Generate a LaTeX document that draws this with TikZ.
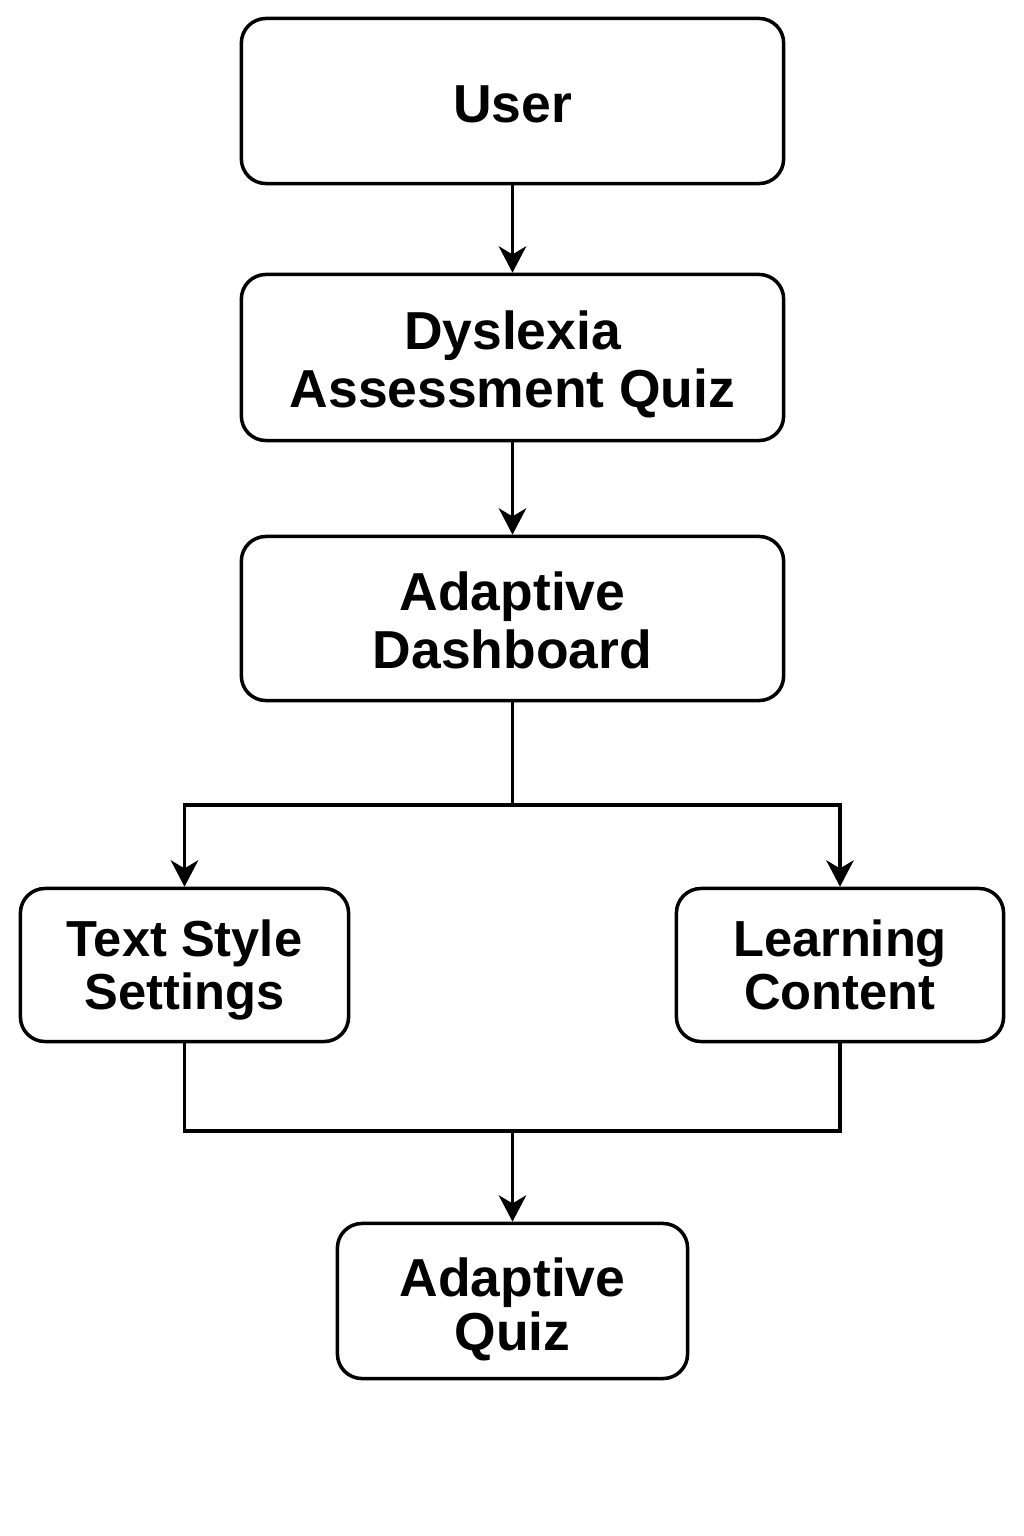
\documentclass[tikz,border=0pt]{standalone}
\usepackage{fontspec}
\setmainfont{Liberation Sans}
\usetikzlibrary{arrows.meta}
\newcommand{\myup}[1]{\rule{0pt}{#1}}
\begin{document}
\begin{tikzpicture}[x=0.01cm,y=-0.01cm,
  box/.style={draw=black, line width=1pt, rounded corners=7pt, inner sep=0pt, align=center, font=\bfseries\fontsize{15.2}{16.5}\selectfont},
  sbox/.style={box, font=\bfseries\fontsize{14.4}{15.2}\selectfont},
  conn/.style={draw=black, line width=1pt},
  arr/.style={conn, -{Stealth[length=7.5pt, width=7.8pt, inset=2.3pt]}}]
\useasboundingbox (0,0) rectangle (1024,1536);
\node[box, minimum width=5.42cm, minimum height=1.65cm] (user) at (512.5,101) {\myup{0.427cm}User};
\node[box, minimum width=5.42cm, minimum height=1.66cm] (quiz) at (512.5,357.5) {\myup{0.527cm}Dyslexia\\Assessment Quiz};
\node[box, minimum width=5.42cm, minimum height=1.64cm] (dash) at (512.5,618.5) {\myup{0.427cm}Adaptive\\Dashboard};
\node[sbox, minimum width=3.28cm, minimum height=1.53cm] (text) at (184.5,965) {\myup{0.465cm}Text Style\\Settings};
\node[sbox, minimum width=3.27cm, minimum height=1.53cm] (learn) at (840,965) {Learning\\Content};
\node[box, font=\bfseries\fontsize{15.2}{15.4}\selectfont, minimum width=3.50cm, minimum height=1.55cm] (aq) at (512.5,1301) {\myup{0.547cm}Adaptive\\Quiz};
\coordinate (split) at (512.5,805);
\coordinate (merge) at (512.5,1131);
\draw[arr] (user) -- (quiz);
\draw[arr] (quiz) -- (dash);
\draw[conn] (dash.south) -- (split);
\draw[arr] (split) -| (text.north);
\draw[arr] (split) -| (learn.north);
\draw[conn] (text.south) |- (merge);
\draw[conn] (learn.south) |- (merge);
\draw[arr] (merge) -- (aq.north);
\end{tikzpicture}
\end{document}
